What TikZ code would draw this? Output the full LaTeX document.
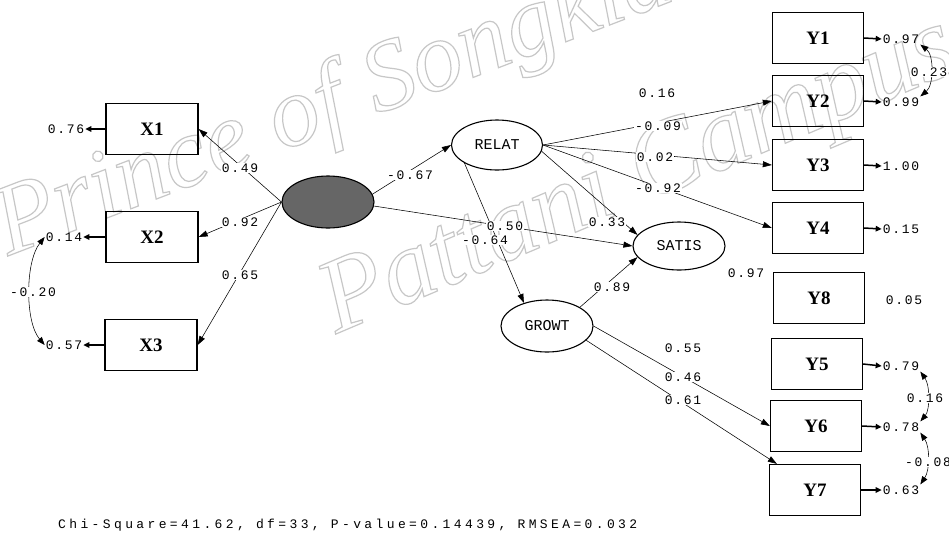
\documentclass[tikz,border=0pt]{standalone}
\usepackage{fontspec}
\setmainfont{Liberation Serif}
\newfontfamily\labfont[LetterSpace=13]{Liberation Mono}
\newfontfamily\latfont{Liberation Mono}
\newfontfamily\chifont[LetterSpace=26]{Liberation Mono}
\usetikzlibrary{shapes.geometric,arrows.meta}
\newcommand\outlinetext[1]{\special{pdf:literal direct q 0.78 G 1.2 w 1 Tr}#1\special{pdf:literal direct 0 Tr Q}}
\begin{document}
\begin{tikzpicture}[x=1pt,y=-1pt,
 obs/.style={draw,line width=1.3pt,minimum width=92pt,minimum height=51pt,inner sep=0pt,font=\bfseries\fontsize{19}{19}\selectfont},
 lat/.style={draw,ellipse,line width=1.1pt,minimum width=91pt,minimum height=50pt,inner sep=0pt,font=\latfont\fontsize{15}{15}\selectfont},
 num/.style={inner sep=1pt,font=\labfont\fontsize{13}{13}\selectfont},
 lbl/.style={num,fill=white},
 pathar/.style={line width=0.55pt,-{Triangle[length=9pt,width=6pt]}},
 err/.style={line width=1.5pt,-{Triangle[length=6pt,width=5.5pt]}},
 cov/.style={line width=0.55pt,{Triangle[length=8pt,width=6pt]}-{Triangle[length=8pt,width=6pt]}},
 wm/.style={font=\itshape\fontsize{100}{100}\selectfont,inner sep=0pt}
]
\useasboundingbox (0,0) rectangle (949,539);
\clip (0,0) rectangle (949,539);
\fill[white] (0,0) rectangle (949,539);
% watermark
\node[wm,anchor=base west,rotate=21] (wm1) at (8,256) {\outlinetext{Prince of Songkla}};
\node[wm,anchor=base west,rotate=23,font=\itshape\fontsize{105}{105}\selectfont] (wm2) at (336,334) {\outlinetext{Pattani Campus}};

% observed variables
\node[obs] (x1) at (152,129) {X1};
\node[obs] (x2) at (152,237) {X2};
\node[obs] (x3) at (151,345) {X3};
\node[obs,minimum width=91pt] (y1) at (818,38) {Y1};
\node[obs,minimum width=91pt] (y2) at (818,101) {Y2};
\node[obs,minimum width=91pt] (y3) at (818,165) {Y3};
\node[obs,minimum width=91pt] (y4) at (818,228) {Y4};
\node[obs,minimum width=91pt] (y8) at (819,298) {Y8};
\node[obs,minimum width=91pt] (y5) at (817,364) {Y5};
\node[obs,minimum width=91pt] (y6) at (816,426) {Y6};
\node[obs,minimum width=91pt] (y7) at (815,490) {Y7};

% latent variables
\node[lat,fill=black!60,minimum width=92pt,minimum height=52pt] (dep) at (328,202) {};
\node[lat] (relat) at (497,145) {RELAT};
\node[lat,minimum width=92pt,minimum height=48pt] (satis) at (679,246) {SATIS};
\node[lat,minimum width=92pt,minimum height=52pt] (growt) at (547,326) {GROWT};

% error values
\node[num] (e1) at (66,129) {0.76};
\node[num] (e2) at (64,237) {0.14};
\node[num] (e3) at (64,345) {0.57};
\node[num] (ey1) at (901,39) {0.97};
\node[num] (ey2) at (901,102) {0.99};
\node[num] (ey3) at (901,166) {1.00};
\node[num] (ey4) at (901,229) {0.15};
\node[num] (ey8) at (904,300) {0.05};
\node[num] (es) at (746,273) {0.97};
\node[num] (ey5) at (901,366) {0.79};
\node[num] (ey6) at (901,427) {0.78};
\node[num] (ey7) at (901,490) {0.63};

% error arrows
\draw[err] (x1.west) -- (e1.east);
\draw[err] (x2.west) -- (e2.east);
\draw[err] (x3.west) -- (e3.east);
\draw[err] (y1.east) -- (ey1.west);
\draw[err] (y2.east) -- (ey2.west);
\draw[err] (y3.east) -- (ey3.west);
\draw[err] (y4.east) -- (ey4.west);
\draw[err] (y5.east) -- (ey5.west);
\draw[err] (y6.east) -- (ey6.west);
\draw[err] (y7.east) -- (ey7.west);

% structural and measurement paths
\draw[pathar] (dep.west) -- (x1.east);
\draw[pathar] (dep.west) -- (x2.east);
\draw[pathar] (dep.west) -- (x3.east);
\draw[pathar] (dep.10) -- (relat.west);
\draw[pathar] (dep.-5) -- (satis.west);
\draw[pathar] (relat.south west) -- (growt.135);
\draw[pathar] (relat.-8) -- (satis.165);
\draw[pathar] (growt.north east) -- (satis.195);
\draw[pathar] (relat.east) -- (y2.west);
\draw[pathar] (relat.east) -- (y3.west);
\draw[pathar] (relat.east) -- (y4.west);
\draw[pathar] (growt.east) -- (y6.west);
\draw[pathar] (growt.-20) -- ([xshift=8pt]y7.north west);

% covariances
\draw[cov] (e2.west) .. controls (25,262) and (25,322) .. (e3.west);
\draw[cov] (ey1.south east) .. controls (934,55) and (934,85) .. (ey2.north east);
\draw[cov] (ey5.south east) .. controls (930,385) and (930,410) .. (ey6.north east);
\draw[cov] (ey6.south east) .. controls (930,447) and (930,470) .. (ey7.north east);

% path labels
\node[lbl] (l1) at (240,168) {0.49};
\node[lbl] (l2) at (240,222) {0.92};
\node[lbl] (l3) at (240,275) {0.65};
\node[lbl] (l4) at (410,175) {-0.67};
\node[lbl] (l5) at (505,226) {0.50};
\node[lbl] (l6) at (485,240) {-0.64};
\node[lbl] (l7) at (607,222) {0.33};
\node[lbl] (l8) at (612,287) {0.89};
\node[lbl] (l9) at (657,93) {0.16};
\node[lbl] (l10) at (658,126) {-0.09};
\node[lbl] (l11) at (655,157) {0.02};
\node[lbl] (l12) at (658,188) {-0.92};
\node[lbl] (l13) at (683,348) {0.55};
\node[lbl] (l14) at (683,377) {0.46};
\node[lbl] (l15) at (683,400) {0.61};
\node[lbl] (c1) at (33,292) {-0.20};
\node[lbl] (c2) at (929,72) {0.23};
\node[lbl] (c3) at (925,398) {0.16};
\node[lbl] (c4) at (928,462) {-0.08};

% fit statistics
\node[anchor=west,inner sep=0pt,font=\chifont\fontsize{13}{13}\selectfont] (fit) at (58,525) {Chi-Square=41.62, df=33, P-value=0.14439, RMSEA=0.032};
\end{tikzpicture}
\end{document}
